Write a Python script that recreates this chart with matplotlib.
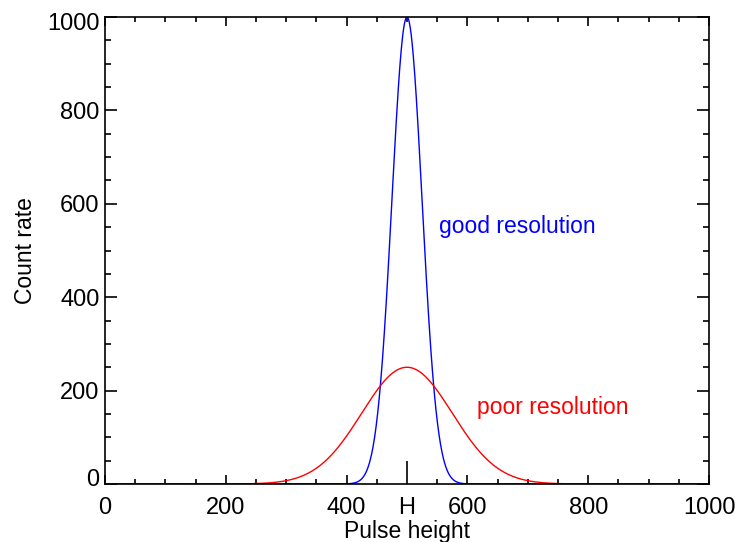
import numpy as np
import matplotlib
matplotlib.use("Agg")
import matplotlib.pyplot as plt
import matplotlib.transforms as mtransforms
from matplotlib.ticker import MultipleLocator

# Two Gaussian pulse-height peaks centred on H
centre = 500
names = ["good resolution", "poor resolution"]
peak_counts = [1000, 250]
sigmas = [25, 75]
colors = ["#0000ff", "#ff0000"]
label_pos = [(553, 538), (616, 150)]

xticks = [0, 200, 400, 500, 600, 800, 1000]
xticklabels = ["0", "200", "400", "H", "600", "800", "1000"]

plt.rcParams['font.family'] = ['Liberation Sans', 'DejaVu Sans']

fig = plt.figure(figsize=(7.35, 5.42), dpi=100)
ax = fig.add_axes([105 / 735, 1 - 484 / 542, 604 / 735, 467 / 542])

x = np.linspace(0, 1000, 2001)
for peak, sig, col in zip(peak_counts, sigmas, colors):
    ax.plot(x, peak * np.exp(-(x - centre) ** 2 / (2 * sig ** 2)), color=col, lw=1.0)

for name, (tx, ty), col in zip(names, label_pos, colors):
    ax.text(tx, ty, name, color=col, fontsize=16.5, ha='left', va='baseline')

ax.set_xlim(0, 1000)
ax.set_ylim(0, 1000)
ax.set_xticks(xticks)
ax.set_xticklabels(xticklabels)
ax.xaxis.set_minor_locator(MultipleLocator(50))
ax.yaxis.set_major_locator(MultipleLocator(200))
ax.yaxis.set_minor_locator(MultipleLocator(50))

ax.tick_params(which='both', direction='in', top=True, right=True,
               labelsize=17, width=1.2, color='black')
ax.tick_params(axis='x', which='major', length=6.5, pad=9)
ax.tick_params(axis='x', which='minor', length=3.6)
ax.tick_params(axis='y', which='major', length=8.6, pad=4)
ax.tick_params(axis='y', which='minor', length=4.3)

# long tick marking H
for t in ax.xaxis.get_major_ticks():
    if t.get_loc() == centre:
        t.tick1line.set_markersize(16.5)
        t.tick2line.set_markersize(3.6)

for s in ax.spines.values():
    s.set_linewidth(1.2)

ax.set_xlabel("Pulse height", fontsize=16.5)
ax.set_ylabel("Count rate", fontsize=16.5)
ax.xaxis.set_label_coords(0.5, -0.078)
ax.yaxis.set_label_coords(-0.113, 0.5)

fig.canvas.draw()
ylabels = ax.get_yticklabels()
shift = {0: 6, 1000: -4}
for lab in ylabels:
    try:
        v = int(lab.get_text())
    except ValueError:
        continue
    if v in shift:
        off = mtransforms.ScaledTranslation(0, shift[v] / 100, fig.dpi_scale_trans)
        lab.set_transform(lab.get_transform() + off)

fig.savefig("out.png", dpi=100)
